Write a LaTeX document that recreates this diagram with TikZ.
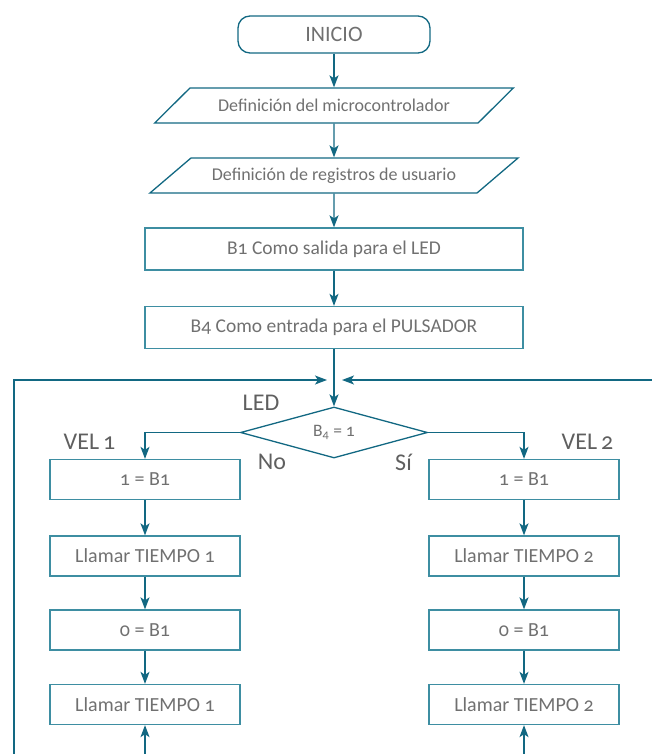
\documentclass[tikz,border=0pt]{standalone}
\usepackage{fontspec}
\setmainfont{Carlito}[Numbers=OldStyle]
\usepackage{xcolor}
\usepackage{tikz}
\usetikzlibrary{calc}
\usetikzlibrary{arrows.meta}
\usetikzlibrary{shapes.geometric}
\tikzset{>={Stealth[length=12pt,width=9pt,inset=3pt]}}

\definecolor{linea}{RGB}{18,104,130}
\definecolor{borde}{RGB}{62,142,162}
\definecolor{texto}{RGB}{112,112,112}

\tikzset{
	caja/.style={rectangle, draw=borde, line width=1.3pt, minimum width=378pt, minimum height=42pt, inner sep=0pt, text=texto, font=\fontsize{19.5}{22}\selectfont},
	cajita/.style={caja, minimum width=190pt, minimum height=40pt, font=\fontsize{20}{23}\selectfont},
	inicio/.style={caja, draw=linea, rounded corners=12pt, minimum width=192pt, minimum height=37pt, font=\fontsize{22}{25}\selectfont},
	datos/.style={trapezium, trapezium left angle=24, trapezium right angle=156, trapezium stretches, draw=linea, line width=1.3pt, inner sep=0pt, minimum height=35pt, text=texto, font=\fontsize{18}{21}\selectfont},
	decision/.style={diamond, aspect=3.67, draw=linea, line width=1.3pt, inner sep=0pt, minimum width=187pt, minimum height=51pt, text=texto, font=\fontsize{17.5}{20}\selectfont},
	etiqueta/.style={text=texto!85!black, font=\fontsize{24}{27}\selectfont},
	flecha/.style={->, draw=linea, line width=1.3pt}
}

\begin{document}
\begin{tikzpicture}[x=1pt, y=-1pt]
	\useasboundingbox (0,0) rectangle (652,754);

	% Bloques principales
	\node[inicio] (ini) at (334,34.5) {INICIO};
	\node[datos, minimum width=359pt] (micro) at (334,105.5) {Definición del microcontrolador};
	\node[datos, minimum width=369pt] (regs) at (334,175.5) {Definición de registros de usuario};
	\node[caja] (b1) at (334,249) {B1 Como salida para el LED};
	\node[caja] (b4) at (334,327.5) {B4 Como entrada para el PULSADOR};
	\node[decision] (pulsa) at (334,432.5) {B\textsubscript{4} = 1};

	% Rama VEL 1
	\node[cajita] (l1) at (145,479.5) {1 = B1};
	\node[cajita] (l2) at (145,556) {Llamar TIEMPO 1};
	\node[cajita] (l3) at (145,630) {0 = B1};
	\node[cajita] (l4) at (145,704.5) {Llamar TIEMPO 1};

	% Rama VEL 2
	\node[cajita] (r1) at (524,479.5) {1 = B1};
	\node[cajita] (r2) at (524,556) {Llamar TIEMPO 2};
	\node[cajita] (r3) at (524,630) {0 = B1};
	\node[cajita] (r4) at (524,704.5) {Llamar TIEMPO 2};

	% Etiquetas
	\node[etiqueta] (led) at (261,403) {LED};
	\node[etiqueta] (vel1) at (89.5,442) {VEL\,1};
	\node[etiqueta] (vel2) at (587.5,442) {VEL\,2};
	\node[etiqueta] (no) at (272,462) {No};
	\node[etiqueta] (si) at (403.5,462) {Sí};

	% Puntos del lazo
	\coordinate (loopL) at (14,754);
	\coordinate (cruceL) at (327,380);
	\coordinate (cruceR) at (342,380);
	\coordinate (loopR) at (652,380);
	\coordinate (finL) at (145,754);
	\coordinate (finR) at (524,754);

	%% Flechas
	\draw[flecha] (ini) -- (micro);
	\draw[flecha] (micro) -- (regs);
	\draw[flecha] (regs) -- (b1);
	\draw[flecha] (b1) -- (b4);
	\draw[flecha] (b4) -- (pulsa);

	\draw[flecha] (pulsa.west) -| (l1.north);
	\draw[flecha] (l1) -- (l2);
	\draw[flecha] (l2) -- (l3);
	\draw[flecha] (l3) -- (l4);
	\draw[flecha] (finL) -- (l4);

	\draw[flecha] (pulsa.east) -| (r1.north);
	\draw[flecha] (r1) -- (r2);
	\draw[flecha] (r2) -- (r3);
	\draw[flecha] (r3) -- (r4);
	\draw[flecha] (finR) -- (r4);

	%% Retorno
	\draw[flecha] (loopL) |- (cruceL);
	\draw[flecha] (loopR) -- (cruceR);
\end{tikzpicture}
\end{document}
